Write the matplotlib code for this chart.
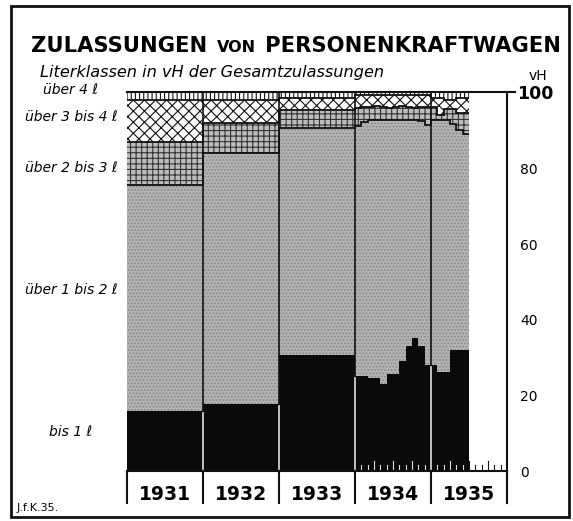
import matplotlib
matplotlib.use('Agg')
import matplotlib.pyplot as plt
from matplotlib.patches import Rectangle

W, H = 573, 521

# Zeitraeume: 1931-1933 Jahreswerte, 1934 und 1935 Monatswerte
year_labels = ['1931', '1932', '1933', '1934', '1935']
period_labels = ['1931', '1932', '1933'] + \
    ['1934-%02d' % m for m in range(1, 13)] + ['1935-%02d' % m for m in range(1, 7)]

# Anteile der Literklassen in vH der Gesamtzulassungen
bis_1 = [15.7, 17.7, 30.5,
         25, 25, 24.5, 24.5, 23, 25.5, 25.5, 29, 33, 35, 33, 28,
         28, 26, 26, 32, 32, 32]
ueber_1_bis_2 = [59.8, 66.1, 59.9,
                 66, 67, 68.1, 68.1, 69.6, 67.1, 67.1, 63.6, 59.6, 57.6, 59.3, 63.3,
                 64.5, 66.5, 66.5, 59.5, 58, 57]
ueber_2_bis_3 = [11.2, 7.9, 4.8,
                 4.8, 4.0, 3.4, 3.6, 3.4, 3.2, 3.4, 3.6, 3.4, 3.2, 3.7, 4.7,
                 3.5, 1.5, 3.0, 4.0, 4.5, 5.5]
ueber_3_bis_4 = [11.2, 6.3, 3.2,
                 3.4, 3.2, 3.2, 3.0, 3.2, 3.4, 3.2, 3.0, 3.2, 3.4, 3.2, 3.2,
                 2.5, 4.5, 2.5, 2.5, 4.0, 4.0]
ueber_4 = [2.1, 2.0, 1.6,
           0.8, 0.8, 0.8, 0.8, 0.8, 0.8, 0.8, 0.8, 0.8, 0.8, 0.8, 0.8,
           1.5, 1.5, 2.0, 2.0, 1.5, 1.5]

class_labels = ['bis 1 \u2113', '\u00fcber 1 bis 2 \u2113', '\u00fcber 2 bis 3 \u2113',
                '\u00fcber 3 bis 4 \u2113', '\u00fcber 4 \u2113']
ticks_vh = [0, 20, 40, 60, 80, 100]

plt.rcParams['hatch.linewidth'] = 0.8
plt.rcParams['font.family'] = 'DejaVu Sans'

fig = plt.figure(figsize=(W / 100, H / 100), dpi=100)
fig.patch.set_facecolor('white')


def px(x, y):
    return x / W, 1 - y / H


x_left, x_right, y_top, y_bot = 127, 507, 92, 471
ax = fig.add_axes([x_left / W, 1 - y_bot / H, (x_right - x_left) / W, (y_bot - y_top) / H])
ax.set_xlim(0, 60)
ax.set_ylim(0, 100)
ax.axis('off')

# x-Positionen: Jahresbalken 12 Monate breit, Monatsbalken 1 breit
lefts, widths = [], []
pos = 0
for lab in period_labels:
    w = 1 if '-' in lab else 12
    lefts.append(pos)
    widths.append(w)
    pos += w
edges = lefts + [pos]

layers = [bis_1, ueber_1_bis_2, ueber_2_bis_3, ueber_3_bis_4, ueber_4]
styles = [dict(color='#0a0a0a'),
          dict(color='#b3b3b3', hatch='.....', edgecolor='#888888'),
          dict(color='#bdbdbd', hatch='+++', edgecolor='#333333'),
          dict(color='white', hatch='xxx', edgecolor='#111111'),
          dict(color='white', hatch='||||', edgecolor='#111111')]

bottom = [0.0] * len(period_labels)
tops = []
for vals, st in zip(layers, styles):
    ax.bar(lefts, vals, width=widths, bottom=bottom, align='edge', linewidth=0, **st)
    bottom = [b + v for b, v in zip(bottom, vals)]
    tops.append(list(bottom))

# Grenzlinien zwischen den Klassen
for t in tops[1:4]:
    ax.stairs(t, edges, baseline=None, color='#111111', lw=1.3)

# Jahrestrennlinien
for i in range(1, 5):
    xs = 12 * i
    ax.plot([xs, xs], [0, 100], color='#111111', lw=1.2)
    k = lefts.index(xs)
    ax.plot([xs, xs], [0, min(bis_1[k - 1], bis_1[k]) - 0.5], color='#dddddd', lw=1.2)

# Monatsstriche 1934/35
for m in range(37, 60):
    if m == 48:
        continue
    hgt = 2.6 if m % 3 == 0 else 1.5
    col = '#dddddd' if m < 54 else '#111111'
    ax.plot([m, m], [0, hgt], color=col, lw=0.8)

# Rahmenlinien des Diagramms
ax.plot([0, 61.2], [100, 100], color='#111111', lw=1.5, clip_on=False)
ax.plot([0, 60], [0, 0], color='#111111', lw=1.5, clip_on=False)
ax.plot([60, 60], [100, -8.4], color='#111111', lw=1.5, clip_on=False)
for i in range(6):
    ax.plot([12 * i, 12 * i], [0, -8.4], color='#111111', lw=1.5, clip_on=False)

# Jahreszahlen
for i, lab in enumerate(year_labels):
    fig.text(*px(x_left + (i + 0.5) * 76, 494), lab, ha='center', va='center',
             fontsize=13.5, fontweight='bold')

# vH-Achse rechts
for v in ticks_vh:
    y = y_bot - v * (y_bot - y_top) / 100 + 2
    if v == 100:
        fig.text(*px(517, y), str(v), ha='left', va='center', fontsize=12.5, fontweight='bold')
    else:
        fig.text(*px(520, y), str(v), ha='left', va='center', fontsize=10)
fig.text(*px(529, 76), 'vH', ha='left', va='center', fontsize=10)

# Klassenbeschriftung links
label_y = [432, 290, 168, 117, 90]
for lab, y in zip(class_labels, label_y):
    fig.text(*px(71, y), lab, ha='center', va='center', fontsize=10, style='italic')

# Titel
fig.canvas.draw()
r = fig.canvas.get_renderer()
parts = [('ZULASSUNGEN', 15.2), ('VON', 11.5), ('PERSONENKRAFTWAGEN', 15.2)]
txts = []
for s, fs in parts:
    t = fig.text(0, 1 - 52 / H, s, fontsize=fs, fontweight='bold', ha='left', va='baseline')
    txts.append(t)
ws = [t.get_window_extent(r).width for t in txts]
gap = 9
x0 = 296 - (sum(ws) + 2 * gap) / 2
for t, w in zip(txts, ws):
    t.set_x(x0 / W)
    x0 += w + gap

fig.text(*px(40, 72), 'Literklassen in vH der Gesamtzulassungen', ha='left', va='center',
         fontsize=11.6, style='italic')
fig.text(*px(17, 508), 'J.f.K.35.', ha='left', va='center', fontsize=8)

# Aussenrahmen
fig.add_artist(Rectangle(px(11, 517), (569 - 11) / W, (517 - 6) / H,
                         transform=fig.transFigure, fill=False, lw=2, color='#111111'))

fig.savefig('out.png', dpi=100)
